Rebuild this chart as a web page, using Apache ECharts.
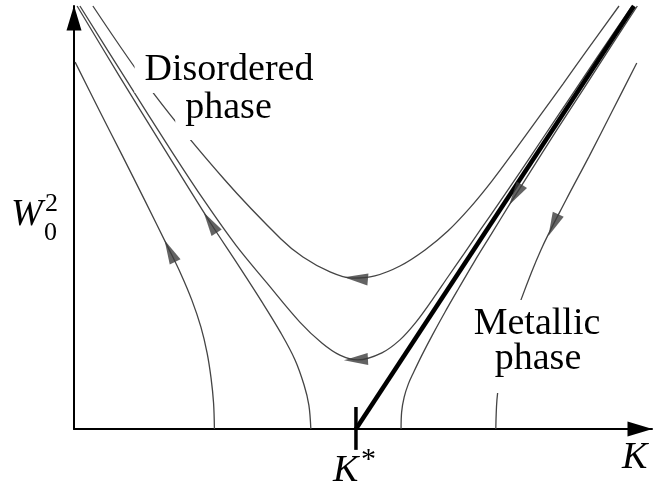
<!DOCTYPE html>
<html><head><meta charset="utf-8">
<script src="https://cdn.jsdelivr.net/npm/echarts/dist/echarts.min.js"></script>
<style>html,body{margin:0;padding:0;background:#fff}#c{width:654px;height:488px}</style>
</head><body><div id="c"></div>
<script>
// Flow lines (K, W0^2), K* = 1
const curveA = [[0.004,1.301],[0.089,1.131],[0.170,0.972],[0.252,0.809],[0.333,0.645],[0.379,0.550],[0.418,0.457],[0.450,0.362],[0.472,0.270],[0.486,0.181],[0.495,0.092],[0.498,0]];
const curveB = [[0.011,1.5],[0.163,1.248],[0.323,0.989],[0.482,0.734],[0.582,0.582],[0.667,0.450],[0.734,0.340],[0.784,0.245],[0.816,0.156],[0.833,0.085],[0.840,0]];
const curveC = [[0.021,1.5],[0.181,1.245],[0.348,0.982],[0.465,0.805],[0.574,0.652],[0.684,0.518],[0.801,0.379],[0.879,0.305],[0.943,0.262],[1.007,0.245],[1.092,0.270],[1.156,0.316],[1.213,0.379],[1.270,0.457],[1.326,0.539],[1.383,0.621],[1.441,0.706],[1.507,0.801],[1.582,0.911],[1.668,1.039],[1.759,1.174],[1.854,1.316],[1.979,1.5]];
const curveD = [[0.067,1.5],[0.287,1.184],[0.535,0.883],[0.734,0.674],[0.812,0.610],[0.908,0.557],[0.986,0.535],[1.067,0.543],[1.156,0.578],[1.245,0.635],[1.326,0.702],[1.404,0.784],[1.482,0.879],[1.564,0.989],[1.649,1.106],[1.734,1.223],[1.823,1.348],[1.933,1.5]];
const curveE = [[1.160,0],[1.162,0.060],[1.171,0.113],[1.186,0.160],[1.205,0.202],[1.234,0.262],[1.271,0.333],[1.316,0.415],[1.365,0.500],[1.419,0.592],[1.480,0.691],[1.546,0.798],[1.622,0.918],[1.712,1.060],[1.809,1.209],[1.905,1.358],[1.998,1.5]];
const curveF = [[1.996,1.298],[1.911,1.131],[1.826,0.965],[1.745,0.812],[1.656,0.635],[1.585,0.457],[1.539,0.316],[1.511,0.191],[1.500,0.103],[1.496,0]];
const separatrix = [[1.0,0],[1.986,1.5]];
const kStarTick = [[1.0,0.078],[1.0,-0.074]];
// arrow heads: curve, position, flow direction along array order
const arrows = [
  {curve:'A', at:[0.340,0.631], flow:-1},
  {curve:'B', at:[0.483,0.732], flow:-1},
  {curve:'D', at:[1.000,0.534], flow:-1},
  {curve:'C', at:[1.000,0.246], flow:-1},
  {curve:'E', at:[1.566,0.830], flow:-1},
  {curve:'F', at:[1.700,0.723], flow:1}
];
const curves = {A:curveA, B:curveB, C:curveC, D:curveD, E:curveE, F:curveF};

const chart = echarts.init(document.getElementById('c'), null, {renderer:'canvas'});
const serif = '"Liberation Serif","Times New Roman",serif';
const thin = {type:'line', smooth:0.35, symbol:'none', clip:false, silent:true,
  lineStyle:{color:'#444', width:1.3}, z:3};
function label(txt, x, y, size, italic, align, vAlign, pad, bg) {
  const st = {text:txt, fontFamily:serif, fontSize:size, fontStyle:italic?'italic':'normal',
    fill:'#000', align:align, textAlign:align, verticalAlign:vAlign, textVerticalAlign:vAlign, lineHeight:size};
  if (bg) { st.backgroundColor = '#fff'; st.padding = pad; }
  return {type:'text', x:x, y:y, z:100, silent:true, style:st};
}
const option = {
  animation:false,
  backgroundColor:'#fff',
  grid:{left:74, right:2, top:6, bottom:59, containLabel:false},
  xAxis:{type:'value', min:0, max:2.05, axisLabel:{show:false}, axisTick:{show:false}, splitLine:{show:false},
    axisLine:{onZero:false, lineStyle:{color:'#000', width:2}, symbol:['none','triangle'], symbolSize:[15,25], symbolOffset:[0,-12]}},
  yAxis:{type:'value', min:0, max:1.5, axisLabel:{show:false}, axisTick:{show:false}, splitLine:{show:false},
    axisLine:{onZero:false, lineStyle:{color:'#000', width:2}, symbol:['none','triangle'], symbolSize:[15,25], symbolOffset:[0,-12]}},
  series:[
    Object.assign({}, thin, {name:'A', data:curveA}),
    Object.assign({}, thin, {name:'B', data:curveB}),
    Object.assign({}, thin, {name:'C', data:curveC}),
    Object.assign({}, thin, {name:'D', data:curveD}),
    Object.assign({}, thin, {name:'E', data:curveE}),
    Object.assign({}, thin, {name:'F', data:curveF}),
    {type:'line', name:'sep', data:separatrix, symbol:'none', silent:true, lineStyle:{color:'#000', width:4.5}, z:4},
    {type:'line', name:'tick', data:kStarTick, symbol:'none', clip:false, silent:true, lineStyle:{color:'#000', width:3.5}, z:4},
    {id:'arrows', type:'scatter', data:[], symbol:'triangle', symbolSize:[12,24], itemStyle:{color:'#3c3c3c'}, z:5, silent:true}
  ],
  graphic:[
    label('Disordered', 229, 48, 38, false, 'center', 'top', [3,10,4,10], true),
    label('phase', 228.5, 86, 38, false, 'center', 'top', [3,10,13,10], true),
    label('Metallic', 537, 300, 38, false, 'center', 'top', [5,12,3,12], true),
    label('phase', 538, 337, 38, false, 'center', 'top', [3,10,15,10], true),
    label('W', 11, 215, 38, true, 'left', 'middle'),
    label('2', 45, 204, 26, false, 'left', 'middle'),
    label('0', 44, 233, 26, false, 'left', 'middle'),
    label('K', 333, 471, 38, true, 'left', 'middle'),
    label('*', 361, 460, 30, false, 'left', 'middle'),
    label('K', 622, 458, 38, true, 'left', 'middle')
  ]
};
chart.setOption(option);
const arrowData = arrows.map(a => {
  const c = curves[a.curve];
  let best = 0, bd = Infinity;
  c.forEach((p, i) => { const d = (p[0]-a.at[0])**2 + (p[1]-a.at[1])**2; if (d < bd) { bd = d; best = i; } });
  const i0 = Math.max(0, best-1), i1 = Math.min(c.length-1, best+1);
  const p1 = chart.convertToPixel({gridIndex:0}, c[i0]);
  const p2 = chart.convertToPixel({gridIndex:0}, c[i1]);
  const dx = (p2[0]-p1[0])*a.flow, dy = (p2[1]-p1[1])*a.flow;
  return {value:a.at, symbolRotate: Math.atan2(-dx, -dy)*180/Math.PI};
});
chart.setOption({series:[{id:'arrows', data:arrowData}]});
</script></body></html>
